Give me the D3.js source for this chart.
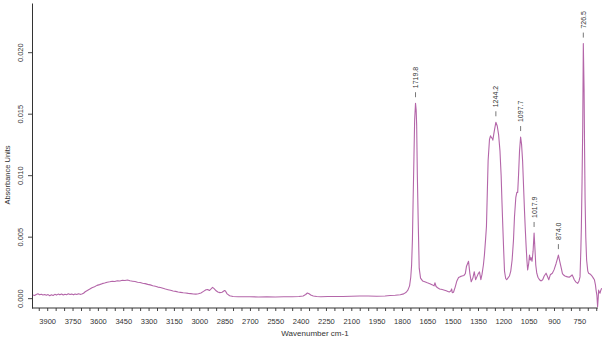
<!DOCTYPE html>
<html>
<head>
<meta charset="utf-8">
<script src="https://cdn.jsdelivr.net/npm/d3@7"></script>
<style>
  body { margin: 0; background: #fff; }
  svg { display: block; font-family: "Liberation Sans", Arial, sans-serif; }
</style>
</head>
<body>
<svg id="chart" width="608" height="342"></svg>
<script>
// spectrum (wavenumber cm-1 / absorbance)
var wavenumbers = [3985,3975,3965,3955,3945,3935,3925,3915,3905,3895,3885,3875,3865,3855,3845,3835,3825,3815,3805,3795,
  3785,3775,3765,3755,3745,3735,3725,3715,3705,3695,3685,3675,3665,3650,3635,3620,3605,3590,3575,3560,
  3545,3530,3515,3500,3485,3470,3455,3440,3425,3410,3395,3380,3365,3350,3335,3320,3305,3290,3275,3260,
  3245,3230,3215,3200,3185,3170,3155,3140,3125,3110,3095,3080,3065,3050,3035,3020,3005,2990,2975,2960,
  2950,2940,2930,2921,2912,2900,2890,2878,2865,2850,2845,2835,2820,2800,2770,2740,2700,2650,2600,2550,
  2500,2450,2410,2385,2370,2360,2350,2340,2325,2305,2280,2240,2200,2150,2100,2050,2000,1950,1900,1870,
  1840,1810,1790,1775,1765,1755,1748,1743,1738,1734,1729,1725,1719.8,1716,1713,1709,1704,1698,1690,1678,
  1665,1650,1635,1619,1610,1605,1598,1589,1577,1562,1548,1538,1525,1518,1510,1506,1502,1495,1485,1475,
  1465,1455,1445,1433,1425,1418,1406,1398,1390,1380,1372,1364,1356,1348,1341,1333,1326,1318,1312,1305,
  1300,1295,1290,1282,1276,1272,1266,1262,1257,1252,1244.2,1236,1228,1220,1213,1208,1203,1198,1193,1186,
  1180,1172,1164,1156,1148,1140,1134,1126,1120,1115,1110,1104,1097.7,1092,1086,1080,1075,1070,1065,1060,
  1056,1050,1045,1040,1036,1030,1024,1017.9,1012,1008,1002,995,986,976,967,958,947,940,931,922,
  910,900,888,880,874.0,866,858,850,845,835,825,819,810,800,793,786,780,770,760,752,
  746,741,738,734,730,726.5,722,719,716,712,707,700,695,685,675,668,661,655,651,646,
  642,638,636,632,628,624,618];
var absorbance = [0.00025,0.00022,0.00030,0.00035,0.00028,0.00032,0.00026,0.00030,0.00024,0.00029,0.00020,0.00027,0.00022,0.00031,0.00025,0.00033,0.00027,0.00034,0.00026,0.00032,
  0.00028,0.00035,0.00029,0.00033,0.00027,0.00034,0.00030,0.00036,0.00031,0.00034,0.00040,0.00052,0.00060,0.00072,0.00085,0.00093,0.00104,0.00110,0.00118,0.00123,
  0.00130,0.00133,0.00137,0.00136,0.00142,0.00140,0.00145,0.00143,0.00148,0.00141,0.00138,0.00135,0.00130,0.00127,0.00121,0.00118,0.00112,0.00108,0.00101,0.00097,
  0.00090,0.00086,0.00080,0.00074,0.00069,0.00064,0.00058,0.00055,0.00050,0.00047,0.00044,0.00042,0.00039,0.00037,0.00034,0.00033,0.00036,0.00042,0.00055,0.00068,
  0.00070,0.00062,0.00075,0.00088,0.00078,0.00060,0.00050,0.00045,0.00048,0.00062,0.00058,0.00035,0.00020,0.00014,0.00012,0.00011,0.00011,0.00010,0.00011,0.00010,
  0.00012,0.00011,0.00013,0.00018,0.00030,0.00042,0.00036,0.00026,0.00018,0.00013,0.00012,0.00013,0.00013,0.00014,0.00016,0.00017,0.00017,0.00016,0.00018,0.00022,
  0.00024,0.00028,0.00035,0.00048,0.00065,0.00100,0.00170,0.00268,0.00480,0.00797,0.01150,0.01447,0.01585,0.01530,0.01407,0.01000,0.00634,0.00244,0.00163,0.00140,
  0.00133,0.00125,0.00118,0.00108,0.00100,0.00125,0.00095,0.00085,0.00075,0.00070,0.00065,0.00060,0.00052,0.00051,0.00060,0.00075,0.00045,0.00048,0.00090,0.00140,
  0.00168,0.00175,0.00180,0.00185,0.00200,0.00260,0.00300,0.00200,0.00133,0.00165,0.00215,0.00150,0.00175,0.00200,0.00214,0.00150,0.00195,0.00270,0.00350,0.00480,
  0.00580,0.00850,0.01120,0.01290,0.01320,0.01310,0.01300,0.01285,0.01330,0.01370,0.01430,0.01400,0.01330,0.01200,0.01000,0.00780,0.00580,0.00390,0.00220,0.00160,
  0.00150,0.00165,0.00180,0.00220,0.00310,0.00470,0.00660,0.00820,0.00860,0.00860,0.01000,0.01200,0.01310,0.01250,0.01120,0.00900,0.00720,0.00560,0.00420,0.00300,
  0.00230,0.00280,0.00350,0.00310,0.00330,0.00300,0.00380,0.00530,0.00380,0.00270,0.00203,0.00170,0.00150,0.00140,0.00150,0.00180,0.00203,0.00180,0.00150,0.00190,
  0.00203,0.00230,0.00280,0.00320,0.00350,0.00300,0.00250,0.00200,0.00190,0.00180,0.00175,0.00173,0.00170,0.00180,0.00190,0.00170,0.00150,0.00130,0.00120,0.00140,
  0.00173,0.00400,0.00580,0.00950,0.01390,0.02070,0.01700,0.01200,0.00800,0.00500,0.00310,0.00220,0.00203,0.00195,0.00180,0.00165,0.00150,0.00110,0.00065,0.00020,
  -0.00070,0.00010,0.00065,0.00050,0.00040,0.00060,0.00080];

// labelled peaks
var peakWn = [1719.8, 1244.2, 1097.7, 1017.9, 874.0, 726.5];
var peakLabels = ["1719.8", "1244.2", "1097.7", "1017.9", "874.0", "726.5"];

// axis ticks
var xMinorTicks = d3.range(650, 4000, 50);
var xLabelTicks = d3.range(750, 3901, 150);
var yTicks = [0, 0.005, 0.010, 0.015, 0.020];

var svg = d3.select("#chart");

var x = d3.scaleLinear().domain([3990, 610]).range([32, 603]);
var y = d3.scaleLinear().domain([-0.0008, 0.024]).range([308, 3]);

// x axis
var xAxis = d3.axisBottom(x)
    .tickValues(xMinorTicks)
    .tickSize(3)
    .tickSizeOuter(0)
    .tickPadding(8)
    .tickFormat(function(d) { return xLabelTicks.indexOf(d) >= 0 ? d : ""; });

var gx = svg.append("g")
    .attr("transform", "translate(0," + y.range()[0] + ")")
    .call(xAxis);
gx.select(".domain").remove();
gx.append("line")
    .attr("x1", x.range()[0]).attr("x2", x(640))
    .attr("stroke", "#333");
gx.selectAll(".tick line").attr("stroke", "#444");
gx.selectAll(".tick text")
    .attr("fill", "#333")
    .style("font-size", "7.5px")
    .style("font-family", "Liberation Sans, Arial, sans-serif");

// y axis
var gy = svg.append("g")
    .attr("transform", "translate(" + x.range()[0] + ",0)")
    .call(d3.axisLeft(y).tickValues(yTicks).tickSize(4).tickSizeOuter(0).tickFormat(d3.format(".3f")));
gy.select(".domain").attr("stroke", "#333");
gy.selectAll(".tick line").attr("stroke", "#444");
gy.selectAll(".tick text")
    .attr("transform", "rotate(-90)")
    .attr("x", 0)
    .attr("y", -9)
    .attr("dy", 0)
    .attr("fill", "#333")
    .style("text-anchor", "middle")
    .style("font-size", "7.5px")
    .style("font-family", "Liberation Sans, Arial, sans-serif");

// axis titles
svg.append("text")
    .attr("transform", "translate(10,175) rotate(-90)")
    .attr("text-anchor", "middle")
    .attr("fill", "#333")
    .style("font-size", "7.5px")
    .text("Absorbance Units");

svg.append("text")
    .attr("x", 315)
    .attr("y", 336)
    .attr("text-anchor", "middle")
    .attr("fill", "#333")
    .style("font-size", "8px")
    .text("Wavenumber cm-1");

// spectrum
var pts = wavenumbers.map(function(w, i) { return [w, absorbance[i]]; });
var line = d3.line()
    .x(function(d) { return x(d[0]); })
    .y(function(d) { return y(d[1]); });

svg.append("path")
    .datum(pts)
    .attr("fill", "none")
    .attr("stroke", "#b466a9")
    .attr("stroke-width", 1.1)
    .attr("stroke-linejoin", "round")
    .attr("d", line);

// peak labels
peakWn.forEach(function(p, i) {
    var a = absorbance[wavenumbers.indexOf(p)];
    var px = x(p), py = y(a);
    svg.append("line")
        .attr("x1", px).attr("x2", px)
        .attr("y1", py - 6).attr("y2", py - 11)
        .attr("stroke", "#555")
        .attr("stroke-width", 0.8);
    svg.append("text")
        .attr("transform", "translate(" + (px + 2.5) + "," + (py - 15) + ") rotate(-90)")
        .attr("fill", "#333")
        .style("font-size", "7px")
        .text(peakLabels[i]);
});
</script>
</body>
</html>
